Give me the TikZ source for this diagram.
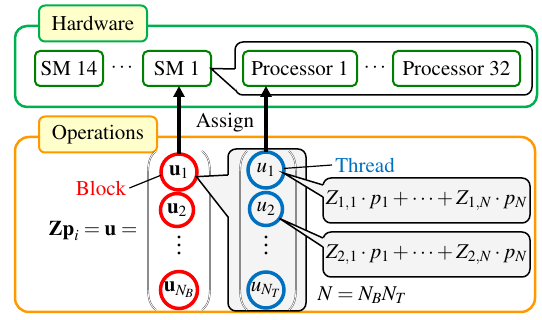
\documentclass[tikz,border=0pt]{standalone}
\usepackage[T1]{fontenc}
\usepackage{mathptmx}
\usetikzlibrary{positioning}
\usetikzlibrary{calc}
\usetikzlibrary{arrows.meta}
\definecolor{hwgreen}{RGB}{0,176,80}
\definecolor{smgreen}{RGB}{0,128,0}
\definecolor{lblyellow}{RGB}{255,255,204}
\definecolor{opsorange}{RGB}{255,153,0}
\definecolor{blockred}{RGB}{255,0,0}
\definecolor{threadblue}{RGB}{0,112,192}
\definecolor{callgray}{RGB}{244,244,244}
\tikzset{
	every node/.style={outer sep=0pt},
	unit/.style={draw=smgreen,line width=2,rounded corners=5,minimum height=35,inner sep=0pt},
	grouplabel/.style={fill=lblyellow,line width=2,rounded corners=6,minimum height=36,inner sep=0pt},
	callbox/.style={draw,line width=1.5,rounded corners=8,inner sep=0pt},
	ring/.style={circle,line width=3.5,minimum size=36,inner sep=0pt},
	paren/.style={draw=black!70,line width=0.45,double=white,double distance=0.8},
	assignarrow/.style={line width=4,-{Triangle[length=11pt,width=11pt]}},
	leader/.style={line width=1.2},
}

\begin{document}
\begin{tikzpicture}[x=1pt,y=-1pt,font=\fontsize{21}{25}\selectfont]
				\useasboundingbox (0,0) rectangle (542,320);
				
				% hardware group.....................
				\draw [hwgreen,line width=2.5,rounded corners=12] (15,26) rectangle (537,107);
				\node [grouplabel,draw=hwgreen,minimum width=108] (hw) at (93,23.5) {Hardware};
				
				\node [unit,minimum width=68] (sm14) at (69,68.5) {SM 14};
				\node (smdots) at (122,68) {$\cdots$};
				\node [unit,minimum width=68] (sm1) at (177,68.5) {SM 1};
				
				% processors of SM 1 (callout)..........
				\node [callbox,fill=white,minimum width=297,minimum height=53] (pgroup) at (383.5,68.5) {};
				\fill [white] (sm1.east) -- ($(pgroup.north west)+(1,27)$) -- ($(pgroup.north west)+(1,48)$) -- cycle;
				\draw [line width=1.5] ($(pgroup.north west)+(0,27)$) -- (sm1.east) -- ($(pgroup.north west)+(0,48)$);
				
				\node [unit,minimum width=114] (p1) at (300,68.5) {Processor 1};
				\node (pdots) at (375,68) {$\cdots$};
				\node [unit,minimum width=127] (p32) at (456.5,68.5) {Processor 32};
				
				% operations group...................
				\draw [opsorange,line width=2.5,rounded corners=14] (15,137) rectangle (535,312);
				\node [grouplabel,draw=opsorange,minimum width=118] (ops) at (98,134.5) {Operations};
				
				\node (assign) at (225,123) {Assign};
				
				% blocks..............................
				\node [ring,draw=blockred] (ru1) at (179,172) {$\mathbf{u}_1$};
				\node [ring,draw=blockred,minimum size=33] (ru2) at (177,210) {$\mathbf{u}_2$};
				\foreach \k in {0,1,2}
					\fill (179,237+8*\k) circle (1.6);
				\node [ring,draw=blockred,minimum size=37] (ruN) at (179,290) {$\mathbf{u}_{N_B}$};
				\draw [paren] (156,151) .. controls (149,157) and (148,163) .. (148,176) -- (148,285) .. controls (148,298) and (149,304) .. (156,310);
				\draw [paren] (202,151) .. controls (209,157) and (210,163) .. (210,176) -- (210,285) .. controls (210,298) and (209,304) .. (202,310);
				
				\node [text=blockred] (block) at (101,188) {Block};
				\draw [leader] (block.east) -- (ru1.190);
				
				\node (eq) at (93,231) {$\mathbf{Zp}_i=\mathbf{u}=$};
				
				% threads (callout)...................
				\node [callbox,fill=callgray,minimum width=78,minimum height=162] (tgroup) at (267,230) {};
				\fill [callgray] (ru1.-15) -- ($(tgroup.north west)+(1,26)$) -- ($(tgroup.north west)+(1,68)$) -- cycle;
				\draw [line width=1.5] ($(tgroup.north west)+(0,26)$) -- (ru1.-15) -- ($(tgroup.north west)+(0,68)$);
				
				\node [ring,draw=threadblue] (bu1) at (266,170) {$u_1$};
				\node [ring,draw=threadblue,minimum size=33] (bu2) at (266,209) {$u_2$};
				\foreach \k in {0,1,2}
					\fill (266,237+8*\k) circle (1.6);
				\node [ring,draw=threadblue] (buN) at (266,290) {$u_{N_T}$};
				\draw [paren] (247,151) .. controls (241,157) and (240,163) .. (240,176) -- (240,285) .. controls (240,298) and (241,304) .. (247,310);
				\draw [paren] (289,151) .. controls (295,157) and (296,163) .. (296,176) -- (296,285) .. controls (296,298) and (295,304) .. (289,310);
				
				\node [text=threadblue,anchor=west] (thread) at (332,165) {Thread};
				\draw [leader] (bu1.5) -- (thread.west);
				
				% assign arrows.......................
				\draw [assignarrow] (ru1.north) -- (ru1.north |- sm1.south);
				\draw [assignarrow] (bu1.north) -- (bu1.north |- p1.south);
				
				% sums for each thread................
				\node [callbox,fill=callgray,minimum width=207,minimum height=45] (sum1) at (426.5,200.5) {$Z_{1,1}\cdot p_1+\cdots+Z_{1,N}\cdot p_N$};
				\fill [callgray] (bu1.-10) -- ($(sum1.north west)+(1,7)$) -- ($(sum1.north west)+(1,19)$) -- cycle;
				\draw [line width=1.5] ($(sum1.north west)+(0,7)$) -- (bu1.-10) -- ($(sum1.north west)+(0,19)$);
				
				\node [callbox,fill=callgray,minimum width=207,minimum height=45] (sum2) at (426.5,254.5) {$Z_{2,1}\cdot p_1+\cdots+Z_{2,N}\cdot p_N$};
				\fill [callgray] (bu2.-35) -- ($(sum2.north west)+(1,6)$) -- ($(sum2.north west)+(1,15)$) -- cycle;
				\draw [line width=1.5] ($(sum2.north west)+(0,6)$) -- (bu2.-35) -- ($(sum2.north west)+(0,15)$);
				
				\node (nprod) at (362,295) {$N=N_BN_T$};
\end{tikzpicture}
\end{document}
